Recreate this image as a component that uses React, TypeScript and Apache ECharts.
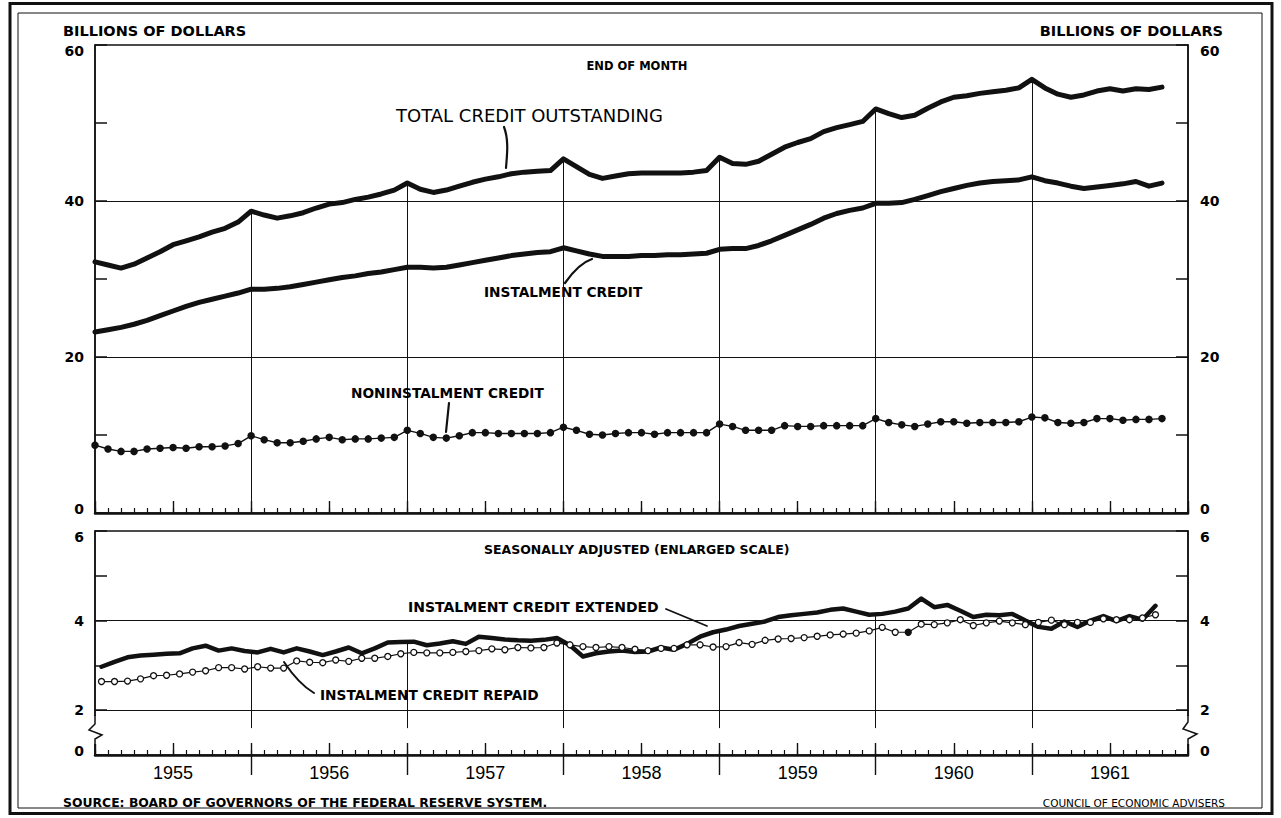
import React, { useEffect, useRef } from "react";
import * as echarts from "echarts";

// End-of-month values, Dec 1954 .. Oct 1961 (billions of dollars)
const totalCredit = [
  32.2, 31.8, 31.4, 31.9, 32.7, 33.5, 34.4, 34.9, 35.4, 36.0, 36.5, 37.3,
  38.7, 38.2, 37.8, 38.1, 38.5, 39.1, 39.6, 39.8, 40.2, 40.5, 40.9, 41.4,
  42.3, 41.5, 41.1, 41.4, 41.9, 42.4, 42.8, 43.1, 43.5, 43.7, 43.8, 43.9,
  45.4, 44.4, 43.4, 42.9, 43.2, 43.5, 43.6, 43.6, 43.6, 43.6, 43.7, 43.9,
  45.6, 44.8, 44.7, 45.1, 46.0, 46.9, 47.5, 48.0, 48.9, 49.4, 49.8, 50.2,
  51.8, 51.2, 50.7, 51.0, 51.9, 52.7, 53.3, 53.5, 53.8, 54.0, 54.2, 54.5,
  55.6, 54.5, 53.7, 53.3, 53.6, 54.1, 54.4, 54.1, 54.4, 54.3, 54.6,
];
const instalmentCredit = [
  23.2, 23.5, 23.8, 24.2, 24.7, 25.3, 25.9, 26.5, 27.0, 27.4, 27.8, 28.2,
  28.7, 28.7, 28.8, 29.0, 29.3, 29.6, 29.9, 30.2, 30.4, 30.7, 30.9, 31.2,
  31.5, 31.5, 31.4, 31.5, 31.8, 32.1, 32.4, 32.7, 33.0, 33.2, 33.4, 33.5,
  34.0, 33.6, 33.2, 32.9, 32.9, 32.9, 33.0, 33.0, 33.1, 33.1, 33.2, 33.3,
  33.8, 33.9, 33.9, 34.3, 34.9, 35.6, 36.3, 37.0, 37.8, 38.4, 38.8, 39.1,
  39.7, 39.7, 39.8, 40.2, 40.7, 41.2, 41.6, 42.0, 42.3, 42.5, 42.6, 42.7,
  43.1, 42.6, 42.3, 41.9, 41.6, 41.8, 42.0, 42.2, 42.5, 41.9, 42.3,
];
const noninstalmentCredit = [
  8.7, 8.2, 7.9, 7.9, 8.2, 8.3, 8.4, 8.3, 8.5, 8.5, 8.6, 8.9,
  9.9, 9.4, 9.0, 9.0, 9.2, 9.5, 9.7, 9.4, 9.5, 9.5, 9.6, 9.7,
  10.6, 10.2, 9.7, 9.6, 9.9, 10.3, 10.3, 10.2, 10.2, 10.2, 10.2, 10.3,
  11.0, 10.6, 10.1, 10.0, 10.2, 10.3, 10.3, 10.1, 10.3, 10.3, 10.3, 10.3,
  11.4, 11.1, 10.6, 10.6, 10.6, 11.2, 11.1, 11.1, 11.2, 11.2, 11.2, 11.2,
  12.1, 11.6, 11.3, 11.1, 11.4, 11.7, 11.7, 11.5, 11.6, 11.6, 11.6, 11.7,
  12.3, 12.2, 11.6, 11.5, 11.6, 12.1, 12.1, 11.9, 12.0, 12.0, 12.1,
];

// Monthly flows, seasonally adjusted, Jan 1955 .. Oct 1961 (billions of dollars)
const creditExtended = [
  2.97, 3.08, 3.18, 3.22, 3.24, 3.26, 3.27, 3.38, 3.44, 3.33, 3.38, 3.32,
  3.29, 3.37, 3.29, 3.38, 3.31, 3.23, 3.31, 3.40, 3.27, 3.38, 3.51, 3.52,
  3.53, 3.45, 3.49, 3.54, 3.48, 3.64, 3.61, 3.58, 3.56, 3.55, 3.57, 3.61,
  3.45, 3.20, 3.27, 3.31, 3.33, 3.30, 3.31, 3.40, 3.35, 3.48, 3.64, 3.74,
  3.80, 3.88, 3.93, 3.98, 4.08, 4.12, 4.15, 4.18, 4.24, 4.27, 4.20, 4.13,
  4.15, 4.20, 4.27, 4.49, 4.30, 4.35, 4.22, 4.08, 4.13, 4.12, 4.15, 4.00,
  3.86, 3.82, 3.98, 3.86, 4.00, 4.10, 3.99, 4.10, 4.02, 4.33,
];
const creditRepaid = [
  2.64, 2.64, 2.65, 2.70, 2.77, 2.78, 2.81, 2.85, 2.88, 2.95, 2.95, 2.92,
  2.97, 2.94, 2.94, 3.10, 3.07, 3.06, 3.12, 3.09, 3.16, 3.16, 3.20, 3.26,
  3.29, 3.28, 3.28, 3.29, 3.31, 3.33, 3.37, 3.35, 3.40, 3.39, 3.40, 3.50,
  3.46, 3.42, 3.40, 3.42, 3.40, 3.36, 3.33, 3.38, 3.38, 3.46, 3.46, 3.41,
  3.42, 3.51, 3.47, 3.56, 3.59, 3.60, 3.62, 3.65, 3.68, 3.70, 3.72, 3.77,
  3.85, 3.74, 3.74, 3.92, 3.91, 3.95, 4.02, 3.89, 3.95, 3.99, 3.95, 3.91,
  3.96, 4.01, 3.91, 3.96, 3.96, 4.04, 4.02, 4.02, 4.06, 4.13,
];
const repaidFilledIndex = 62;

const yearLabels = ["1955", "1956", "1957", "1958", "1959", "1960", "1961"];
const yearBoundaries = [12, 24, 36, 48, 60, 72];
const topGridValues = [20, 40];
const bottomGridValues = [2, 4];
const bottomBaseLabel = "0"; // broken axis: the baseline is labelled 0

const FONT = '"DejaVu Sans", sans-serif';
const INK = "#111";

function buildOption() {
  const totalData = totalCredit.map((v, i) => [i, v]);
  const instData = instalmentCredit.map((v, i) => [i, v]);
  const nonData = noninstalmentCredit.map((v, i) => [i, v]);
  const extData = creditExtended.map((v, j) => [j + 0.5, v]);
  const repData = creditRepaid.map((v, j) =>
    j === repaidFilledIndex
      ? { value: [j + 0.5, v], itemStyle: { color: INK } }
      : [j + 0.5, v]
  );

  const topMarks: any[] = [
    ...topGridValues.map((v) => ({ yAxis: v })),
    ...yearBoundaries.map((m) => [
      { coord: [m, totalCredit[m]] },
      { coord: [m, 0] },
    ]),
  ];
  const bottomMarks: any[] = [
    ...bottomGridValues.map((v) => ({ yAxis: v })),
    ...yearBoundaries.map((m) => {
      const top = Math.max(
        (creditExtended[m - 1] + creditExtended[m]) / 2,
        (creditRepaid[m - 1] + creditRepaid[m]) / 2
      );
      return [{ coord: [m, top] }, { coord: [m, 1.6] }];
    }),
  ];
  const markLineBase = {
    silent: true,
    symbol: ["none", "none"],
    label: { show: false },
    lineStyle: { color: INK, width: 1, type: "solid" },
    emphasis: { disabled: true },
  };

  const monthAxis = (gridIndex: number) => ({
    type: "value",
    gridIndex,
    position: "bottom",
    min: 0,
    max: 84,
    interval: 1,
    axisLine: { show: true, onZero: false, lineStyle: { color: INK, width: 2.5 } },
    axisTick: { show: true, inside: true, length: 5, lineStyle: { color: INK, width: 1.2 } },
    axisLabel: { show: false },
    splitLine: { show: false },
  });
  const halfYearAxis = (gridIndex: number, labels: boolean) => ({
    type: "value",
    gridIndex,
    position: "bottom",
    min: 0,
    max: 84,
    interval: 6,
    axisLine: { show: false, onZero: false },
    axisTick: { show: true, inside: true, length: 12, lineStyle: { color: INK, width: 1.4 } },
    axisLabel: labels
      ? {
          show: true,
          margin: 9,
          color: "#000",
          fontFamily: '"Liberation Sans", Arial, sans-serif',
          fontSize: 18,
          formatter: (v: number) => (v % 12 === 6 ? yearLabels[(v - 6) / 12] : ""),
        }
      : { show: false },
    splitLine: { show: false },
  });

  const labelFont = { fontFamily: FONT, fontWeight: "bold", fontSize: 14, color: "#000" };
  const richShift = {
    lo: { ...labelFont, padding: [12, 0, 0, 0] },
    hi: { ...labelFont, padding: [0, 0, 8, 0] },
  };

  const yAxisTop = (position: string) => ({
    type: "value",
    gridIndex: 0,
    position,
    min: 0,
    max: 60,
    interval: 10,
    axisLine: { show: true, onZero: false, lineStyle: { color: INK, width: 1.5 } },
    axisTick: { show: true, inside: true, length: 12, lineStyle: { color: INK, width: 1.5 } },
    axisLabel: {
      show: true,
      margin: position === "left" ? 11 : 12,
      ...labelFont,
      rich: richShift,
      formatter: (v: number) =>
        v === 60 ? "{lo|60}" : v === 0 ? "{hi|0}" : v % 20 === 0 ? String(v) : "",
    },
    splitLine: { show: false },
  });
  const yAxisBottom = (position: string) => ({
    type: "value",
    gridIndex: 1,
    position,
    min: 1,
    max: 6,
    interval: 1,
    axisLine: { show: true, onZero: false, lineStyle: { color: INK, width: 1.5 } },
    axisTick: { show: true, inside: true, length: 12, lineStyle: { color: INK, width: 1.5 } },
    axisLabel: {
      show: true,
      margin: position === "left" ? 11 : 12,
      ...labelFont,
      rich: richShift,
      formatter: (v: number) =>
        v === 1
          ? "{hi|" + bottomBaseLabel + "}"
          : v === 6
          ? "{lo|6}"
          : v % 2 === 0
          ? String(v)
          : "",
    },
    splitLine: { show: false },
  });

  const txt = (
    text: string,
    x: number,
    y: number,
    size: number,
    weight: string,
    align: string = "left",
    family: string = FONT
  ) => ({
    type: "text",
    x,
    y,
    z: 100,
    silent: true,
    style: {
      text,
      fill: "#000",
      fontFamily: family,
      fontSize: size,
      fontWeight: weight,
      textAlign: align,
      textVerticalAlign: "middle",
    },
  });
  const stroke = (w: number) => ({ stroke: INK, lineWidth: w, fill: null, lineCap: "round" });

  const graphic: any[] = [
    // frame
    { type: "rect", z: 100, silent: true, shape: { x: 10, y: 3.5, width: 1262, height: 810 }, style: { fill: null, stroke: INK, lineWidth: 3 } },
    { type: "rect", z: 100, silent: true, shape: { x: 18, y: 13, width: 1244, height: 795 }, style: { fill: null, stroke: INK, lineWidth: 1 } },
    // headings
    txt("BILLIONS OF DOLLARS", 63, 31, 14.5, "bold"),
    txt("BILLIONS OF DOLLARS", 1223, 31, 14.5, "bold", "right"),
    txt("END OF MONTH", 637, 66, 11.5, "bold", "center"),
    txt("TOTAL CREDIT OUTSTANDING", 396, 115, 18, "normal"),
    txt("INSTALMENT CREDIT", 484, 292, 13.7, "bold"),
    txt("NONINSTALMENT CREDIT", 351, 393, 13.7, "bold"),
    txt("SEASONALLY ADJUSTED (ENLARGED SCALE)", 484, 549, 12.5, "bold"),
    txt("INSTALMENT CREDIT EXTENDED", 408, 607, 14, "bold"),
    txt("INSTALMENT CREDIT REPAID", 320, 695, 13.7, "bold"),
    txt("SOURCE: BOARD OF GOVERNORS OF THE FEDERAL RESERVE SYSTEM.", 63, 802, 12.4, "bold"),
    txt("COUNCIL OF ECONOMIC ADVISERS", 1225, 803, 10.5, "normal", "right"),
    // leader lines
    { type: "bezierCurve", z: 100, silent: true, shape: { x1: 504, y1: 127, cpx1: 509, cpy1: 140, cpx2: 507, cpy2: 155, x2: 506, y2: 168 }, style: stroke(2.2) },
    { type: "bezierCurve", z: 100, silent: true, shape: { x1: 565, y1: 283, cpx1: 574, cpy1: 270, cpx2: 583, cpy2: 262, x2: 592, y2: 259 }, style: stroke(2.2) },
    { type: "line", z: 100, silent: true, shape: { x1: 449, y1: 403, x2: 446, y2: 432 }, style: stroke(2.2) },
    { type: "line", z: 100, silent: true, shape: { x1: 666, y1: 609, x2: 707, y2: 626 }, style: stroke(1.8) },
    { type: "bezierCurve", z: 100, silent: true, shape: { x1: 284, y1: 662, cpx1: 292, cpy1: 674, cpx2: 302, cpy2: 686, x2: 314, y2: 693 }, style: stroke(2) },
    // axis breaks
    { type: "rect", z: 100, silent: true, shape: { x: 90, y: 716, width: 14, height: 28 }, style: { fill: "#fff", stroke: null } },
    { type: "polyline", z: 101, silent: true, shape: { points: [[95, 715], [95, 724], [89, 730], [102, 735], [95, 739], [95, 745]] }, style: { stroke: INK, lineWidth: 1.5, fill: null } },
    { type: "rect", z: 100, silent: true, shape: { x: 1181, y: 716, width: 14, height: 28 }, style: { fill: "#fff", stroke: null } },
    { type: "polyline", z: 101, silent: true, shape: { points: [[1188, 715], [1188, 722], [1183, 729], [1197, 734], [1188, 739], [1188, 745]] }, style: { stroke: INK, lineWidth: 1.5, fill: null } },
  ];

  return {
    animation: false,
    backgroundColor: "#fff",
    grid: [
      { left: 95, right: 93, top: 45, height: 468, show: true, borderColor: INK, borderWidth: 1.5, backgroundColor: "transparent" },
      { left: 95, right: 93, top: 531, height: 224, show: true, borderColor: INK, borderWidth: 1.5, backgroundColor: "transparent" },
    ],
    xAxis: [
      monthAxis(0),
      halfYearAxis(0, false),
      monthAxis(1),
      halfYearAxis(1, true),
      {
        type: "value",
        gridIndex: 1,
        position: "bottom",
        min: 0,
        max: 84,
        interval: 12,
        axisLine: { show: false, onZero: false },
        axisTick: {
          show: true,
          inside: false,
          length: 20,
          customValues: yearBoundaries,
          lineStyle: { color: INK, width: 1.4 },
        },
        axisLabel: { show: false },
        splitLine: { show: false },
      },
    ],
    yAxis: [yAxisTop("left"), yAxisTop("right"), yAxisBottom("left"), yAxisBottom("right")],
    series: [
      {
        name: "Total credit outstanding",
        type: "line",
        xAxisIndex: 0,
        yAxisIndex: 0,
        data: totalData,
        symbol: "none",
        z: 5,
        lineStyle: { color: INK, width: 5, cap: "round", join: "round" },
        markLine: { ...markLineBase, data: topMarks },
      },
      {
        name: "Instalment credit",
        type: "line",
        xAxisIndex: 0,
        yAxisIndex: 0,
        data: instData,
        symbol: "none",
        z: 5,
        lineStyle: { color: INK, width: 5, cap: "round", join: "round" },
      },
      {
        name: "Noninstalment credit",
        type: "line",
        xAxisIndex: 0,
        yAxisIndex: 0,
        data: nonData,
        symbol: "circle",
        symbolSize: 7.5,
        showAllSymbol: true,
        z: 5,
        itemStyle: { color: INK },
        lineStyle: { color: INK, width: 1.4 },
      },
      {
        name: "Instalment credit extended",
        type: "line",
        xAxisIndex: 2,
        yAxisIndex: 2,
        data: extData,
        symbol: "none",
        z: 5,
        lineStyle: { color: INK, width: 4.5, cap: "round", join: "round" },
        markLine: { ...markLineBase, data: bottomMarks },
      },
      {
        name: "Instalment credit repaid",
        type: "line",
        xAxisIndex: 2,
        yAxisIndex: 2,
        data: repData,
        symbol: "circle",
        symbolSize: 6,
        showAllSymbol: true,
        z: 6,
        itemStyle: { color: "#fff", borderColor: INK, borderWidth: 1.3 },
        lineStyle: { color: INK, width: 1.2 },
      },
    ],
    graphic,
  };
}

export default function App() {
  const ref = useRef<HTMLDivElement>(null);
  useEffect(() => {
    if (!ref.current) return;
    const chart = echarts.init(ref.current, null, { renderer: "svg" });
    chart.setOption(buildOption() as any);
    return () => chart.dispose();
  }, []);
  return (
    <div
      ref={ref}
      style={{ position: "absolute", left: 0, top: 0, width: 1281, height: 818, background: "#fff" }}
    />
  );
}
